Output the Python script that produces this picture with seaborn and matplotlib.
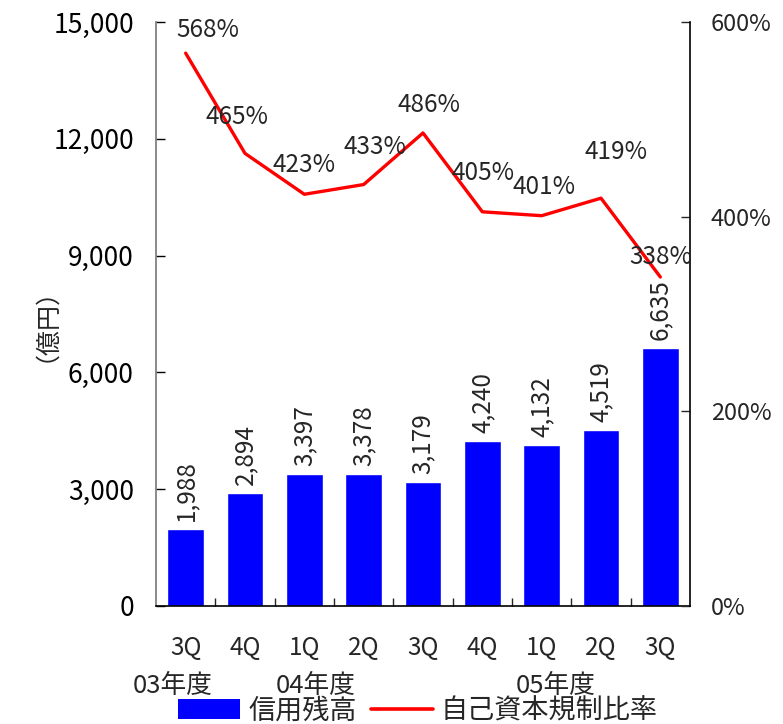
import matplotlib
matplotlib.use("Agg")
import matplotlib.pyplot as plt
import matplotlib.transforms as mtransforms
from matplotlib.patches import Patch
from matplotlib.lines import Line2D
from matplotlib.ticker import FixedLocator, FuncFormatter
import seaborn as sns
import pandas as pd
import numpy as np

# ---- data ----
quarters = ["3Q", "4Q", "1Q", "2Q", "3Q", "4Q", "1Q", "2Q", "3Q"]
fiscal_years = ["03年度", "03年度", "04年度", "04年度", "04年度", "04年度", "05年度", "05年度", "05年度"]
credit_balance = [1988, 2894, 3397, 3378, 3179, 4240, 4132, 4519, 6635]
capital_ratio = [568, 465, 423, 433, 486, 405, 401, 419, 338]
year_labels = ["03年度", "04年度", "05年度"]
left_ticks = [0, 3000, 6000, 9000, 12000, 15000]
right_ticks = [0, 200, 400, 600]

# label placement (pixels), styling only
ratio_label_offsets = [(22, 23), (-8, 36), (0, 29), (11, 38), (6, 28), (1, 39), (2, 29), (15, 46), (0, 20)]
year_label_x = [-0.22, 2.2, 6.23]

sns.set_theme(style="white")
plt.rcParams['font.family'] = ['Noto Sans CJK JP', 'DejaVu Sans']

df = pd.DataFrame({
    "period": [f"{y}{q}" for y, q in zip(fiscal_years, quarters)],
    "quarter": quarters,
    "credit": credit_balance,
    "ratio": capital_ratio,
})
df["pos"] = np.arange(len(df))

fig = plt.figure(figsize=(7.83, 7.24), dpi=100)
ax = fig.add_axes([156 / 783, 1 - 606 / 724, (690 - 156) / 783, (606 - 22) / 724])

sns.barplot(data=df, x="period", y="credit", color="#0000FF", saturation=1,
            width=0.62, ax=ax, errorbar=None)

ax2 = ax.twinx()
sns.lineplot(data=df, x="pos", y="ratio", color="#FF0000", linewidth=2.4, ax=ax2)

ax.set_xlim(-0.5, len(df) - 0.5)
ax.set_ylim(0, 15000)
ax2.set_ylim(0, 600)

# left axis
ax.yaxis.set_major_locator(FixedLocator(left_ticks))
ax.yaxis.set_major_formatter(FuncFormatter(lambda v, p: f"{int(v):,}"))
ax.tick_params(axis="y", direction="in", length=6.5, width=1, pad=16, labelsize=19, left=True, colors="black")
# right axis
ax2.yaxis.set_major_locator(FixedLocator(right_ticks))
ax2.yaxis.set_major_formatter(FuncFormatter(lambda v, p: f"{int(v)}%"))
ax2.tick_params(axis="y", direction="in", length=6.5, width=1, pad=15, labelsize=17, right=True)

# x axis
ax.set_xticks(df["pos"])
ax.set_xticklabels(df["quarter"])
ax.xaxis.set_minor_locator(FixedLocator(np.arange(0.5, len(df) - 1, 1.0)))
ax.tick_params(axis="x", which="major", length=0, pad=21, labelsize=17.5)
ax.tick_params(axis="x", which="minor", direction="in", length=6, width=1, bottom=True)
ax.set_xlabel("")
ax.set_ylabel("")
ax2.set_ylabel("")
ax2.set_xlabel("")

for s in ["top", "right"]:
    ax.spines[s].set_visible(False)
for s in ["top", "left", "bottom"]:
    ax2.spines[s].set_visible(False)
ax.spines["left"].set_color("#777777")
ax.spines["bottom"].set_color("black")
ax2.spines["right"].set_color("black")
for sp in [ax.spines["left"], ax.spines["bottom"], ax2.spines["right"]]:
    sp.set_linewidth(1.2)

# bar labels
for i, v in enumerate(df["credit"]):
    ax.annotate(f"{v:,}", (i, v), xytext=(0, 8), textcoords="offset pixels",
                rotation=90, ha="center", va="bottom", fontsize=17.5)

# ratio labels
for i, v in enumerate(df["ratio"]):
    dx, dy = ratio_label_offsets[i]
    ax2.annotate(f"{v}%", (i, v), xytext=(dx, dy), textcoords="offset pixels",
                 ha="center", va="center", fontsize=17.5)

# y unit label
fig.text(33 / 783, 1 - 312 / 724, "（億円）", rotation=90, ha="center", va="center", fontsize=18)

# fiscal year labels
trans = mtransforms.blended_transform_factory(ax.transData, fig.transFigure)
for x, lab in zip(year_label_x, year_labels):
    ax.text(x, 1 - 686 / 724, lab, transform=trans, ha="center", va="center", fontsize=18.5)

# legend
handles = [Patch(facecolor="#0000FF", edgecolor="none"),
           Line2D([0], [0], color="#FF0000", linewidth=2.6)]
fig.legend(handles, ["信用残高", "自己資本規制比率"], loc="center",
           bbox_to_anchor=(418 / 783, 1 - 711 / 724), ncol=2, frameon=False,
           fontsize=19.5, handlelength=2.3, handleheight=0.75, columnspacing=0.5,
           handletextpad=0.3, borderaxespad=0, borderpad=0)

fig.savefig("out.png", dpi=100)
